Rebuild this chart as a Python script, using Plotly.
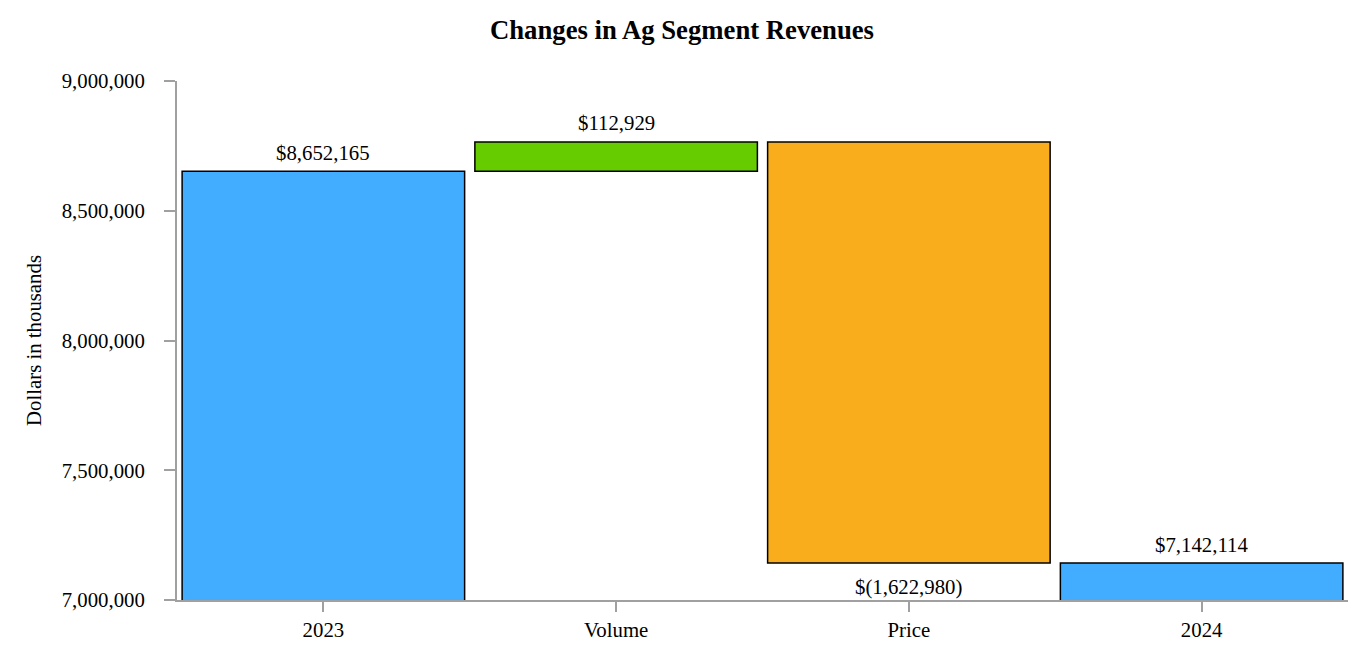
import plotly.graph_objects as go

categories = ["2023", "Volume", "Price", "2024"]
measures = ["absolute", "relative", "relative", "total"]
values = [8652165, 112929, -1622980, 0]
labels = ["$8,652,165", "$112,929", "$(1,622,980)", "$7,142,114"]
y_ticks = [7000000, 7500000, 8000000, 8500000, 9000000]

FONT = "Liberation Serif, Times New Roman, serif"
FS = 20.8

fig = go.Figure(go.Waterfall(
    x=categories,
    y=values,
    measure=measures,
    connector=dict(visible=False),
    increasing=dict(marker=dict(color="#66CC00", line=dict(color="black", width=1.5))),
    decreasing=dict(marker=dict(color="#F9AD1C", line=dict(color="black", width=1.5))),
    totals=dict(marker=dict(color="#42ADFF", line=dict(color="black", width=1.5))),
    cliponaxis=True,
    hovertext=labels,
    hoverinfo="x+text",
))

# value labels placed at the end of each bar (x given as category index)
running = 0
for i, (m, v, lab) in enumerate(zip(measures, values, labels)):
    if m == "absolute":
        running = v
        up = True
    elif m == "relative":
        running += v
        up = v >= 0
    else:
        up = True
    fig.add_annotation(
        x=i, y=running, text=lab, showarrow=False,
        yanchor="middle", yshift=19 if up else -24,
        font=dict(family=FONT, size=FS, color="black"),
    )

fig.update_layout(
    width=1368, height=660,
    margin=dict(l=169, r=28, t=73, b=68),
    paper_bgcolor="white", plot_bgcolor="white",
    font=dict(family=FONT, size=FS, color="black"),
    title=dict(text="<b>Changes in Ag Segment Revenues</b>", x=0.4927, xanchor="center",
               y=0.967, yanchor="middle", font=dict(family=FONT, size=26.7, color="black")),
    showlegend=False,
    waterfallgap=0.035,
)
fig.update_xaxes(
    type="category",
    showline=True, linecolor="#a0a0a0", linewidth=2,
    ticks="outside", ticklen=10, tickcolor="#a0a0a0", tickwidth=2,
    showgrid=False, range=[-0.5, 3.5],
    tickfont=dict(family=FONT, size=FS),
)
fig.update_yaxes(
    range=[7000000, 9000000], tickvals=y_ticks, tickformat=",",
    showline=True, linecolor="#a0a0a0", linewidth=2,
    ticks="outside", ticklen=11, tickcolor="#a0a0a0", tickwidth=2,
    ticklabelstandoff=15,
    showgrid=False, zeroline=False,
    title=dict(text="Dollars in thousands", font=dict(family=FONT, size=FS), standoff=14),
    tickfont=dict(family=FONT, size=FS),
)

fig.write_html("out.html")
